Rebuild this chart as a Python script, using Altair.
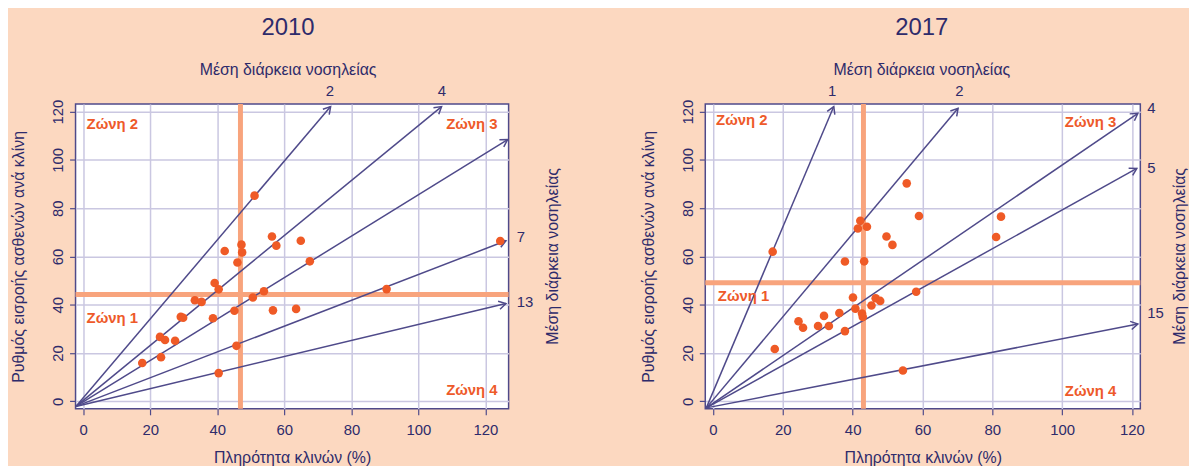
import math
import altair as alt
import pandas as pd

# ---------------- data: 2010 ----------------
occ_2010 = [51.1, 56.3, 64.9, 57.6, 47.2, 47.4, 42.2, 46.0, 67.6, 39.2, 40.4, 90.5, 124.4, 53.9, 50.6,
            33.3, 35.3, 45.1, 56.6, 63.5, 29.1, 29.8, 38.7, 22.9, 24.4, 27.4, 45.7, 23.2, 17.6, 40.4]
rate_2010 = [85.2, 68.3, 66.5, 64.5, 64.9, 61.7, 62.3, 57.5, 58.0, 49.0, 46.4, 46.5, 66.4, 45.6, 43.0,
             41.9, 41.2, 37.5, 37.7, 38.3, 35.0, 34.6, 34.4, 26.7, 25.4, 25.1, 23.0, 18.3, 15.9, 11.7]
arrow_start_2010 = (-2.2, -2.1)
arrow_end_x_2010 = [73.8, 106.9, 126.6, 126.1, 126.1]
arrow_end_y_2010 = [122.1, 122.1, 108.4, 66.5, 40.5]
top_lbl_2010 = ["2", "4"]
top_lbl_x_2010 = [73.6, 107.0]
top_lbl_y_2010 = [128.7, 128.7]
right_lbl_2010 = ["7", "13"]
right_lbl_x_2010 = [129.3, 129.3]
right_lbl_y_2010 = [68.2, 41.2]
vline_2010 = 46.9
hline_2010 = 44.3
xdom_2010 = [-2.3, 126.9]

# ---------------- data: 2017 ----------------
occ_2017 = [55.5, 59.0, 82.5, 81.1, 42.2, 41.5, 44.1, 49.7, 51.4, 17.1, 37.8, 43.3, 58.2, 40.1, 46.6,
            47.9, 45.4, 40.8, 42.7, 42.9, 36.2, 31.8, 24.5, 25.8, 30.1, 33.2, 37.8, 17.7, 54.4]
rate_2017 = [90.3, 76.8, 76.5, 68.1, 74.8, 71.6, 72.3, 68.3, 64.8, 62.0, 57.9, 58.0, 45.4, 43.0, 42.7,
             41.6, 39.7, 38.4, 36.4, 35.0, 36.6, 35.4, 33.2, 30.5, 31.2, 31.2, 29.1, 21.7, 12.8]
arrow_start_2017 = (-1.9, -2.7)
arrow_end_x_2017 = [34.6, 70.2, 121.7, 121.4, 121.7]
arrow_end_y_2017 = [122.1, 121.4, 119.3, 96.5, 32.0]
top_lbl_2017 = ["1", "2"]
top_lbl_x_2017 = [34.1, 70.6]
top_lbl_y_2017 = [128.7, 128.7]
right_lbl_2017 = ["4", "5", "15"]
right_lbl_x_2017 = [124.4, 124.4, 124.4]
right_lbl_y_2017 = [121.3, 96.6, 36.7]
vline_2017 = 43.1
hline_2017 = 49.1
xdom_2017 = [-2.2, 122.4]

zone_names = ["Ζώνη 2", "Ζώνη 3", "Ζώνη 1", "Ζώνη 4"]
zone_x_2010 = [1.0, 123.6, 1.0, 123.6]
zone_y_2010 = [115.0, 115.0, 34.4, 4.8]
zone_x_2017 = [0.9, 115.5, 1.4, 115.5]
zone_y_2017 = [116.7, 115.7, 43.5, 4.1]

ydom = [-3.1, 123.2]
ticks = [0, 20, 40, 60, 80, 100, 120]

FONT = "Liberation Sans"
TXT = "#2E2B6B"
LINE = "#4F4A8A"
DOT = "#EF5A26"
REF = "#F8A47D"
ZONE = "#EE5A2A"
BG = "#FCD8C0"
H = 307


def panel(year, occ, rate, start, ex, ey, tl, tlx, tly, rl, rlx, rly, vline, hline,
          zx, zy, xdom, width, title_dx, side_off):
    kx = width / (xdom[1] - xdom[0])
    ky = H / (ydom[1] - ydom[0])
    angles = []
    for a, b in zip(ex, ey):
        ang = math.degrees(math.atan2(-(b - start[1]) * ky, (a - start[0]) * kx)) % 360
        angles.append(ang)
    arrows = pd.DataFrame({"x0": [start[0]] * len(ex), "y0": [start[1]] * len(ex),
                           "x1": ex, "y1": ey, "ang": angles})
    pts = pd.DataFrame({"occ": occ, "rate": rate})
    xs = alt.Scale(domain=xdom, nice=False, zero=False)
    ys = alt.Scale(domain=ydom, nice=False, zero=False)

    base_x = alt.X("occ:Q", scale=xs,
                   axis=alt.Axis(values=ticks, title="Πληρότητα κλινών (%)", grid=True))
    base_y = alt.Y("rate:Q", scale=ys,
                   axis=alt.Axis(values=ticks, title="Ρυθμός εισροής ασθενών ανά κλίνη", grid=True))

    ref_v = alt.Chart(pd.DataFrame({"v": [vline]})).mark_rule(color=REF, strokeWidth=5).encode(
        x=alt.X("v:Q", scale=xs))
    ref_h = alt.Chart(pd.DataFrame({"h": [hline]})).mark_rule(color=REF, strokeWidth=5).encode(
        y=alt.Y("h:Q", scale=ys))

    lines = alt.Chart(arrows).mark_rule(color=LINE, strokeWidth=1.5).encode(
        x=alt.X("x0:Q", scale=xs), y=alt.Y("y0:Q", scale=ys), x2="x1:Q", y2="y1:Q")
    heads = alt.Chart(arrows).mark_point(
        shape="M -1.7 -1 L 0 0 L -1.7 1", filled=False, color=LINE, strokeWidth=1.5,
        size=70, opacity=1).encode(
        x=alt.X("x1:Q", scale=xs), y=alt.Y("y1:Q", scale=ys), angle=alt.Angle("ang:Q", scale=None))

    dots = alt.Chart(pts).mark_circle(color=DOT, size=75, opacity=1).encode(x=base_x, y=base_y)

    top = alt.Chart(pd.DataFrame({"t": tl, "x": tlx, "y": tly})).mark_text(
        font=FONT, fontSize=15, color=TXT, align="center", baseline="middle").encode(
        x=alt.X("x:Q", scale=xs), y=alt.Y("y:Q", scale=ys), text="t:N")
    right = alt.Chart(pd.DataFrame({"t": rl, "x": rlx, "y": rly})).mark_text(
        font=FONT, fontSize=15, color=TXT, align="left", baseline="middle").encode(
        x=alt.X("x:Q", scale=xs), y=alt.Y("y:Q", scale=ys), text="t:N")

    zdf = pd.DataFrame({"t": zone_names, "x": zx, "y": zy})
    zl = alt.Chart(zdf[zdf.index.isin([0, 2])]).mark_text(
        font=FONT, fontSize=15, fontWeight="bold", color=ZONE, align="left", baseline="middle").encode(
        x=alt.X("x:Q", scale=xs), y=alt.Y("y:Q", scale=ys), text="t:N")
    zr = alt.Chart(zdf[zdf.index.isin([1, 3])]).mark_text(
        font=FONT, fontSize=15, fontWeight="bold", color=ZONE, align="right", baseline="middle").encode(
        x=alt.X("x:Q", scale=xs), y=alt.Y("y:Q", scale=ys), text="t:N")

    side = alt.Chart(pd.DataFrame({"t": ["Μέση διάρκεια νοσηλείας"]})).mark_text(
        font=FONT, fontSize=16, color=TXT, angle=270, align="center", baseline="middle").encode(
        x=alt.value(width + side_off), y=alt.value(H / 2), text="t:N")

    return alt.layer(ref_v, ref_h, lines, heads, dots, top, right, zl, zr, side).properties(
        width=width, height=H,
        title=alt.TitleParams(text=year, subtitle="Μέση διάρκεια νοσηλείας", fontSize=24,
                              font=FONT, fontWeight="normal", color=TXT, subtitleFont=FONT,
                              subtitleFontSize=16, subtitleColor=TXT, subtitlePadding=22,
                              anchor="middle", offset=6, dx=title_dx))


left = panel("2010", occ_2010, rate_2010, arrow_start_2010, arrow_end_x_2010, arrow_end_y_2010,
             top_lbl_2010, top_lbl_x_2010, top_lbl_y_2010, right_lbl_2010, right_lbl_x_2010,
             right_lbl_y_2010, vline_2010, hline_2010, zone_x_2010, zone_y_2010, xdom_2010, 436,
             -4, 45)
rightp = panel("2017", occ_2017, rate_2017, arrow_start_2017, arrow_end_x_2017, arrow_end_y_2017,
               top_lbl_2017, top_lbl_x_2017, top_lbl_y_2017, right_lbl_2017, right_lbl_x_2017,
               right_lbl_y_2017, vline_2017, hline_2017, zone_x_2017, zone_y_2017, xdom_2017, 438,
               -1, 40)

chart = alt.hconcat(left, rightp, spacing=78).configure(
    background=BG, padding={"top": 5, "left": 2, "right": 0, "bottom": 0}
).configure_view(
    fill="white", stroke=LINE, strokeWidth=1.5
).configure_axis(
    labelFont=FONT, labelFontSize=15, labelColor=TXT, titleFont=FONT, titleFontSize=16,
    titleColor=TXT, titleFontWeight="normal", tickColor=LINE, tickSize=6, tickWidth=1.2,
    domain=False, gridColor="#CAC7E1", gridWidth=1.5, labelOverlap=False
).configure_axisX(
    labelPadding=8, titlePadding=12
).configure_axisY(
    labelAngle=270, labelAlign="center", labelBaseline="bottom", labelPadding=4, titlePadding=24
)

chart.save("out.html", embed_options={"renderer": "svg", "actions": False})
